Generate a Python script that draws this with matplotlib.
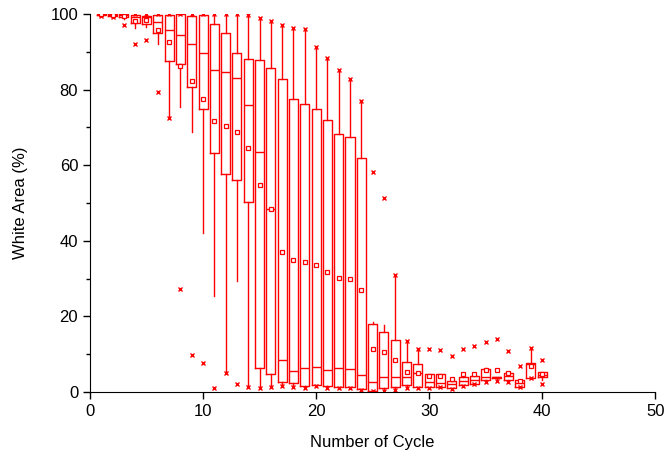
import matplotlib
matplotlib.use("Agg")
import matplotlib.pyplot as plt
from matplotlib.ticker import MultipleLocator

plt.rcParams['font.family'] = ['Liberation Sans', 'DejaVu Sans']

# Box statistics per cycle (values in %)
cycles = list(range(1, 41))
min_pts = [99.6, 99.1, 97.1, 92.2, 93.1, 79.3, 72.4, 27.2, 9.7, 7.7,
           1.1, 4.9, 2.0, 1.4, 1.0, 1.4, 1.6, 1.4, 1.0, 1.6,
           1.1, 1.0, 1.0, 0.5, 0.2, 0.3, 0.5, 1.0, 1.1, 1.0,
           1.4, 0.7, 1.6, 2.0, 2.7, 3.0, 2.7, 1.2, 3.6, 2.1]
whis_lo = [99.7, 99.3, 98.8, 96.3, 96.5, 92.2, 72.4, 75.5, 68.9, 42.0,
           25.5, 4.9, 29.4, 1.4, 1.0, 1.4, 1.6, 1.4, 1.0, 1.6,
           1.1, 1.0, 1.0, 0.5, 0.2, 0.5, 0.5, 1.0, 1.1, 1.2,
           1.4, 0.7, 1.6, 2.0, 2.7, 3.0, 2.7, 1.2, 3.6, 3.2]
q1 = [99.7, 99.5, 99.1, 97.7, 97.4, 94.9, 87.6, 86.7, 80.8, 75.0,
      63.3, 57.8, 56.2, 50.3, 6.3, 4.7, 2.7, 2.5, 1.6, 1.9,
      1.6, 1.2, 1.2, 0.8, 0.4, 1.0, 1.2, 1.9, 1.3, 1.4,
      1.4, 1.0, 1.9, 2.0, 3.2, 3.6, 3.2, 1.4, 3.6, 4.1]
medians = [99.9, 99.8, 99.7, 99.2, 99.3, 97.8, 95.9, 94.4, 92.2, 89.8,
           85.3, 84.7, 83.2, 75.9, 63.4, 48.4, 8.6, 5.6, 6.3, 6.7,
           5.7, 6.4, 6.1, 4.4, 2.7, 3.9, 4.1, 4.1, 4.9, 2.6,
           2.3, 2.1, 2.9, 3.2, 4.1, 3.9, 4.2, 2.5, 7.4, 4.5]
q3 = [100, 100, 100, 99.8, 99.6, 99.7, 99.7, 100, 99.5, 99.7,
      97.4, 94.9, 89.6, 88.2, 87.8, 85.8, 82.8, 77.6, 76.1, 75.0,
      72.0, 68.3, 67.5, 61.8, 17.9, 15.8, 13.8, 8.0, 7.3, 4.7,
      4.7, 3.0, 4.1, 4.3, 6.1, 4.1, 4.9, 3.3, 7.8, 5.4]
whis_hi = [100, 100, 100, 100, 100, 100, 100, 100, 100, 100,
           100, 100, 99.9, 99.7, 99.0, 98.1, 97.2, 96.2, 96.0, 91.4,
           88.5, 85.2, 82.7, 77.1, 18.4, 17.7, 31.0, 13.5, 11.5, 4.7,
           4.7, 3.6, 4.6, 4.8, 6.3, 4.1, 4.9, 3.3, 11.7, 5.4]
max_pts = [100, 100, 100, 100, 100, 100, 100, 100, 100, 100,
           100, 100, 99.9, 99.7, 99.0, 98.1, 97.2, 96.2, 96.0, 91.4,
           88.5, 85.2, 82.7, 77.1, 58.3, 51.4, 31.0, 13.5, 11.5, 11.5,
           11.2, 9.6, 11.5, 12.3, 13.3, 14.0, 10.8, 7.0, 11.7, 8.5]
means = [99.9, 99.7, 99.5, 98.3, 98.4, 95.8, 92.5, 86.2, 82.4, 77.5,
         71.7, 70.4, 68.7, 64.5, 54.8, 48.5, 37.1, 34.9, 34.3, 33.6,
         31.7, 30.2, 29.8, 27.0, 11.4, 10.7, 8.5, 5.4, 4.9, 4.2,
         4.2, 3.4, 4.7, 4.7, 5.8, 5.8, 4.9, 3.0, 6.9, 4.7]

stats = []
for i in range(len(cycles)):
    stats.append(dict(whislo=whis_lo[i], q1=q1[i], med=medians[i], q3=q3[i],
                      whishi=whis_hi[i], mean=means[i],
                      fliers=[min_pts[i], max_pts[i]]))

fig = plt.figure(figsize=(6.65, 4.57), dpi=100)
ax = fig.add_axes([0.1353, 0.1422, 0.85, 0.827])

red = '#ff0000'
ax.bxp(stats, positions=cycles, widths=0.8, showmeans=True, showcaps=False,
       manage_ticks=False, patch_artist=False,
       boxprops=dict(color=red, linewidth=1),
       whiskerprops=dict(color=red, linewidth=1),
       medianprops=dict(color=red, linewidth=1),
       meanprops=dict(marker='s', markerfacecolor='white', markeredgecolor=red,
                      markersize=3.5, markeredgewidth=0.9),
       flierprops=dict(marker='x', markeredgecolor=red, markersize=3.5,
                       markeredgewidth=1.0))

ax.set_xlim(0, 50)
ax.set_ylim(0, 100)
ax.xaxis.set_major_locator(MultipleLocator(10))
ax.yaxis.set_major_locator(MultipleLocator(20))
ax.yaxis.set_minor_locator(MultipleLocator(10))
ax.tick_params(axis='both', which='major', direction='out', length=5,
               width=1, labelsize=12, colors='black')
ax.tick_params(axis='y', which='minor', direction='out', length=3, width=1)
ax.spines['top'].set_visible(False)
ax.spines['right'].set_visible(False)
ax.set_xlabel('Number of Cycle', fontsize=12, labelpad=12)
ax.set_ylabel('White Area (%)', fontsize=12, labelpad=16)

fig.savefig('out.png', dpi=100)
